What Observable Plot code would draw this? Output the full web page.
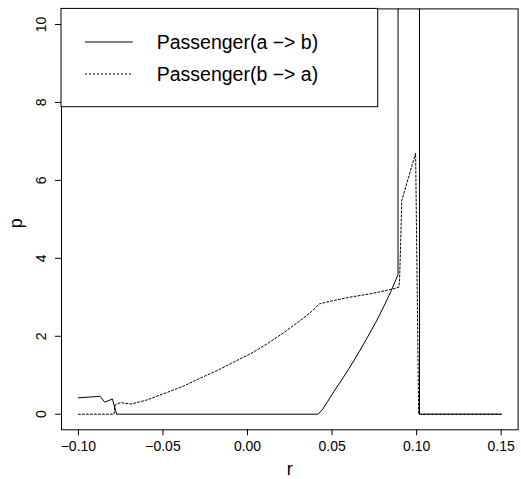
<!DOCTYPE html>
<html><head><meta charset="utf-8">
<script src="https://cdn.jsdelivr.net/npm/d3@7"></script>
<script src="https://cdn.jsdelivr.net/npm/@observablehq/plot@0.6"></script>
<style>
body{margin:0;background:#fff;}
#wrap{position:relative;width:521px;height:479px;font-family:"Liberation Sans",Arial,sans-serif;}
#wrap svg.overlay{position:absolute;left:0;top:0;pointer-events:none;}
</style></head><body><div id="wrap"></div>
<script>
// ---- data ----
const seriesNames = ["Passenger(a \u2212> b)", "Passenger(b \u2212> a)"];
const seriesDash = ["none", "2,2"];

// Passenger(a -> b)  (solid)
const rAB = [-0.100, -0.0872, -0.0844, -0.0799, -0.0774, 0.0416, 0.0440, 0.0470, 0.0510, 0.0560, 0.0610, 0.0660, 0.0710, 0.0760, 0.0810, 0.0850, 0.0890, 0.0902, 0.1010, 0.1017, 0.150];
const pAB = [0.42, 0.46, 0.31, 0.39, 0.00, 0.00, 0.10, 0.30, 0.58, 0.90, 1.24, 1.60, 1.98, 2.37, 2.80, 3.17, 3.58, 400, 400, 0.00, 0.00];

// Passenger(b -> a)  (dashed)
const rBA = [-0.100, -0.0790, -0.0782, -0.0750, -0.0690, -0.0600, -0.0474, -0.0380, -0.0277, -0.0180, -0.0080, 0.0017, 0.0117, 0.0210, 0.0314, 0.0380, 0.0425, 0.0470, 0.0600, 0.0728, 0.0865, 0.0895, 0.0899, 0.0905, 0.0912, 0.0994, 0.1012, 0.150];
const pBA = [0.00, 0.00, 0.24, 0.30, 0.26, 0.36, 0.56, 0.72, 0.93, 1.12, 1.34, 1.55, 1.81, 2.08, 2.41, 2.64, 2.83, 2.88, 3.00, 3.09, 3.22, 3.26, 3.45, 4.30, 5.48, 6.70, 0.00, 0.00];

const xTicks = [-0.10, -0.05, 0.00, 0.05, 0.10, 0.15];
const yTicks = [0, 2, 4, 6, 8, 10];
const xLabel = "r";
const yLabel = "p";

// ---- build ----
const ab = rAB.map((r, i) => ({r, p: pAB[i]}));
const ba = rBA.map((r, i) => ({r, p: pBA[i]}));

const W = 521, H = 479;
const mL = 61, mR = 3.4, mT = 8.4, mB = 49.7;

const chart = Plot.plot({
  width: W, height: H,
  marginLeft: mL, marginRight: mR, marginTop: mT, marginBottom: mB,
  style: {fontFamily: "'Liberation Sans', Arial, sans-serif", background: "white", color: "black", overflow: "visible"},
  x: {domain: [-0.11, 0.16]},
  y: {domain: [-0.4, 10.4]},
  marks: [
    Plot.line(ab, {x: "r", y: "p", stroke: "black", strokeWidth: 1, clip: true}),
    Plot.line(ba, {x: "r", y: "p", stroke: "black", strokeWidth: 1, strokeDasharray: seriesDash[1], clip: true}),
    Plot.frame({stroke: "black", strokeWidth: 1}),
    Plot.axisX({ticks: xTicks, tickFormat: d3.format(".2f"), tickSize: 6, tickPadding: 5.5, fontSize: 14, label: null}),
    Plot.axisY({ticks: yTicks, tickSize: 6, tickPadding: 10, tickRotate: -90, textAnchor: "middle", lineAnchor: "bottom", fontSize: 14, label: null}),
    Plot.text([xLabel], {text: d => d, frameAnchor: "bottom", lineAnchor: "bottom", dy: 44.7, fontSize: 18}),
    Plot.text([yLabel], {text: d => d, frameAnchor: "left", rotate: -90, lineAnchor: "bottom", textAnchor: "middle", dx: -39.3, dy: 4, fontSize: 18})
  ]
});

const wrap = document.getElementById("wrap");
wrap.appendChild(chart);

// ---- legend (top-left, boxed, as in R's legend("topleft")) ----
const xs = chart.scale("x"), ys = chart.scale("y");
const boxL = xs.apply(-0.11), boxT = ys.apply(10.4);
const boxW = 316.7, boxH = 98.3;
const ov = d3.select(wrap).append("svg").attr("class", "overlay").attr("width", W).attr("height", H);
const lg = ov.append("g").attr("transform", `translate(${boxL},${boxT})`);
lg.append("rect").attr("x", 0).attr("y", 0).attr("width", boxW).attr("height", boxH)
  .attr("fill", "white").attr("stroke", "black").attr("stroke-width", 1);
const rowY = [33.6, 65.6];
seriesNames.forEach((name, i) => {
  lg.append("line").attr("x1", 24).attr("x2", 71.7).attr("y1", rowY[i]).attr("y2", rowY[i])
    .attr("stroke", "black").attr("stroke-width", 1)
    .attr("stroke-dasharray", seriesDash[i] === "none" ? null : seriesDash[i]);
  lg.append("text").attr("x", 95.7).attr("y", rowY[i]).attr("dy", "0.36em")
    .attr("font-size", 19.5).attr("font-family", "'Liberation Sans', Arial, sans-serif")
    .attr("fill", "black").text(name);
});
</script></body></html>
